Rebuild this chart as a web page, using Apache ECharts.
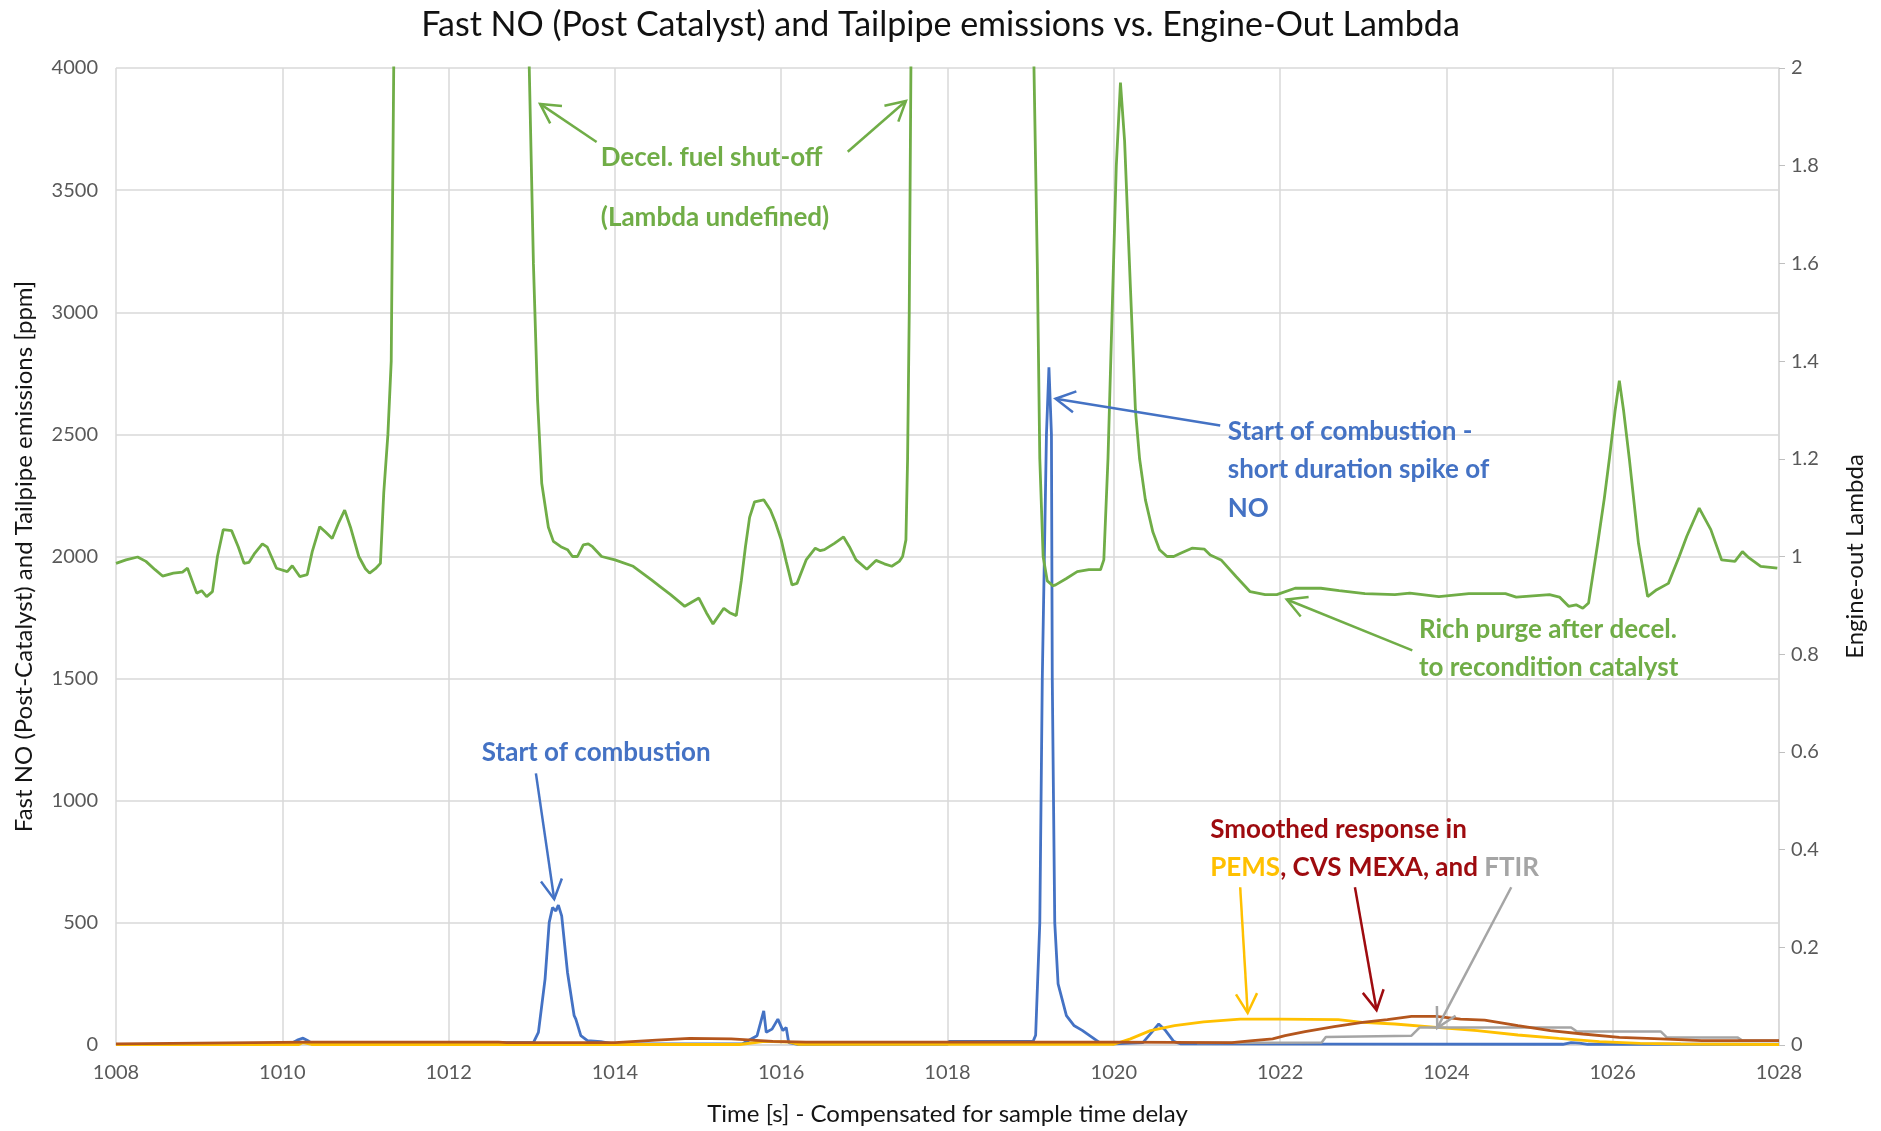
<!DOCTYPE html>
<html>
<head>
<meta charset="utf-8">
<script src="https://cdn.jsdelivr.net/npm/echarts@6/dist/echarts.min.js"></script>
<style>
html,body{margin:0;padding:0;background:#fff;}
#chart{width:1881px;height:1131px;}
</style>
</head>
<body>
<div id="chart"></div>
<script>
// ---------- DATA ----------
const xTicks = [1008,1010,1012,1014,1016,1018,1020,1022,1024,1026,1028];

// Engine-out lambda (right axis); values above 2 are "undefined" (off chart)
const lambdaTime = [1008.00,1008.12,1008.26,1008.36,1008.47,1008.56,1008.69,1008.80,1008.86,1008.97,1009.03,1009.09,1009.16,1009.22,1009.29,1009.39,1009.47,1009.54,1009.60,1009.67,1009.76,1009.82,1009.93,1010.06,1010.12,1010.21,1010.30,1010.36,1010.45,1010.52,1010.60,1010.68,1010.75,1010.82,1010.92,1011.00,1011.05,1011.12,1011.18,1011.22,1011.27,1011.31,1011.34,1011.38,
1012.94,1012.97,1013.02,1013.07,1013.12,1013.20,1013.26,1013.35,1013.43,1013.49,1013.55,1013.62,1013.68,1013.73,1013.84,1014.00,1014.22,1014.44,1014.54,1014.67,1014.84,1015.01,1015.10,1015.18,1015.31,1015.38,1015.46,1015.52,1015.57,1015.62,1015.68,1015.79,1015.87,1015.93,1016.00,1016.06,1016.13,1016.19,1016.30,1016.41,1016.47,1016.52,1016.64,1016.75,1016.82,1016.90,1017.03,1017.14,1017.24,1017.33,1017.42,1017.46,1017.50,1017.52,1017.54,1017.56,1017.60,
1019.00,1019.04,1019.08,1019.11,1019.15,1019.20,1019.27,1019.30,1019.43,1019.56,1019.70,1019.84,1019.88,1019.93,1019.98,1020.03,1020.08,1020.13,1020.20,1020.26,1020.31,1020.38,1020.47,1020.55,1020.64,1020.72,1020.81,1020.94,1021.09,1021.16,1021.29,1021.47,1021.64,1021.82,1021.96,1022.18,1022.49,1022.71,1023.02,1023.38,1023.56,1023.91,1024.27,1024.71,1024.84,1025.24,1025.36,1025.47,1025.56,1025.64,1025.71,1025.82,1025.90,1025.96,1026.03,1026.08,1026.13,1026.20,1026.31,1026.42,1026.53,1026.67,1026.80,1026.89,1027.04,1027.18,1027.31,1027.47,1027.56,1027.64,1027.78,1027.98];
const lambdaValue = [0.986,0.993,0.999,0.990,0.973,0.960,0.966,0.968,0.976,0.925,0.930,0.918,0.928,1.000,1.055,1.053,1.020,0.986,0.988,1.007,1.026,1.019,0.976,0.969,0.981,0.959,0.963,1.010,1.061,1.050,1.037,1.070,1.095,1.060,1.000,0.975,0.966,0.975,0.986,1.130,1.250,1.400,2.000,2.600,
2.600,2.000,1.600,1.320,1.150,1.060,1.031,1.020,1.014,1.000,1.000,1.024,1.026,1.020,1.000,0.993,0.980,0.952,0.939,0.922,0.898,0.915,0.885,0.862,0.894,0.885,0.879,0.950,1.020,1.080,1.112,1.116,1.095,1.070,1.034,0.990,0.942,0.945,0.993,1.017,1.012,1.014,1.027,1.040,1.020,0.993,0.974,0.992,0.985,0.980,0.990,1.000,1.034,1.200,1.500,2.000,2.600,
2.600,2.000,1.600,1.200,1.000,0.950,0.940,0.942,0.955,0.969,0.973,0.973,0.993,1.200,1.500,1.800,1.970,1.850,1.550,1.300,1.200,1.116,1.050,1.014,1.000,1.000,1.007,1.017,1.015,1.003,0.993,0.959,0.928,0.922,0.922,0.935,0.935,0.930,0.924,0.922,0.925,0.918,0.924,0.924,0.917,0.922,0.917,0.898,0.901,0.894,0.905,1.027,1.120,1.200,1.300,1.360,1.300,1.200,1.027,0.918,0.932,0.945,1.000,1.041,1.099,1.055,0.993,0.990,1.010,0.997,0.980,0.976];

// Fast NO post-catalyst [ppm]
const fastNoTime = [1008.88,1010.10,1010.18,1010.25,1010.32,1010.38,1012.50,1012.60,1013.02,1013.08,1013.16,1013.21,1013.25,1013.29,1013.32,1013.36,1013.43,1013.51,1013.53,1013.59,1013.67,1013.83,1014.00,1015.54,1015.71,1015.79,1015.82,1015.89,1015.96,1016.02,1016.06,1016.09,1016.20,1018.00,1018.02,1019.03,1019.06,1019.11,1019.14,1019.19,1019.22,1019.25,1019.26,1019.29,1019.33,1019.43,1019.52,1019.62,1019.83,1020.00,1020.35,1020.45,1020.54,1020.62,1020.72,1020.80,1025.40,1025.50,1025.60,1025.70,1028.00];
const fastNoValue = [5,5,20,28,15,3,3,10,10,52,270,502,563,549,573,529,297,120,106,38,18,14,4,6,38,140,52,65,106,59,72,10,3,3,15,15,40,500,1500,2500,2775,2500,1500,500,250,120,80,60,10,5,10,50,86,60,15,5,3,10,8,3,3];

// PEMS [ppm]
const pemsTime = [1008.0,1010.2,1010.25,1010.35,1015.5,1015.8,1016.1,1016.2,1020.0,1020.2,1020.44,1020.73,1021.08,1021.52,1022.0,1022.7,1022.99,1023.38,1023.88,1024.37,1024.86,1025.35,1025.84,1026.33,1026.82,1028.0];
const pemsValue = [2,2,10,2,2,15,12,3,3,25,59,79,95,106,106,104,93,86,72,59,41,27,14,7,4,2];

// CVS MEXA [ppm]
const mexaTime = [1008.0,1009.0,1010.3,1012.6,1012.7,1014.0,1014.5,1014.9,1015.4,1015.9,1016.3,1020.0,1021.42,1021.67,1021.91,1022.06,1022.3,1022.65,1022.99,1023.29,1023.58,1023.88,1024.17,1024.46,1024.86,1025.25,1025.64,1026.08,1026.58,1027.07,1028.0];
const mexaValue = [5,8,12,12,10,10,20,27,25,15,12,12,10,18,25,38,55,75,93,104,117,117,106,102,79,59,45,31,25,18,18];

// FTIR [ppm] (stepped)
const ftirTime = [1021.0,1022.50,1022.55,1023.58,1023.68,1025.50,1025.57,1026.58,1026.65,1027.50,1027.56,1028.0];
const ftirValue = [8,10,33,38,72,72,55,55,31,31,18,18];

// ---------- helpers ----------
const pairs = (t, v) => t.map((x, i) => [x, v[i]]);
const FONT = 'Lato, "Open Sans", sans-serif';
const GREEN = '#70AD47', BLUE = '#4472C4', YELLOW = '#FFC000', BROWN = '#B4561D', GRAY = '#A5A5A5', DARKRED = '#9E0B0F';

const chart = echarts.init(document.getElementById('chart'), null, {renderer: 'canvas'});

const baseLine = (name, data, color, yIndex, z, w) => ({
  name, type: 'line', data, yAxisIndex: yIndex, showSymbol: false, symbol: 'none',
  lineStyle: {color, width: w || 2.8}, itemStyle: {color}, z, animation: false, clip: true
});

chart.setOption({
  animation: false,
  title: {
    text: 'Fast NO (Post Catalyst) and Tailpipe emissions vs. Engine-Out Lambda',
    left: 'center', top: 3,
    textStyle: {fontFamily: FONT, fontSize: 34, fontWeight: 'normal', color: '#111'}
  },
  grid: {left: 116, right: 102, top: 68, bottom: 85, containLabel: false},
  xAxis: {
    type: 'value', min: 1008, max: 1028, interval: 2,
    name: 'Time [s] - Compensated for sample time delay',
    nameLocation: 'middle', nameGap: 57,
    nameTextStyle: {fontFamily: FONT, fontSize: 24, color: '#151515'},
    axisLine: {show: true, lineStyle: {color: '#d9d9d9', width: 1.5}},
    axisTick: {show: false},
    axisLabel: {fontFamily: FONT, fontSize: 20, color: '#595959', margin: 18,
      formatter: v => String(v)},
    splitLine: {show: true, lineStyle: {color: '#d9d9d9', width: 1.5}}
  },
  yAxis: [
    {
      type: 'value', min: 0, max: 4000, interval: 500, position: 'left',
      name: 'Fast NO (Post-Catalyst) and Tailpipe emissions [ppm]',
      nameLocation: 'middle', nameGap: 80, nameRotate: 90,
      nameTextStyle: {fontFamily: FONT, fontSize: 24, color: '#151515'},
      axisLine: {show: false}, axisTick: {show: false},
      axisLabel: {fontFamily: FONT, fontSize: 20, color: '#595959', margin: 18,
        formatter: v => String(v)},
      splitLine: {show: true, lineStyle: {color: '#d9d9d9', width: 1.5}}
    },
    {
      type: 'value', min: 0, max: 2, interval: 0.2, position: 'right',
      name: 'Engine-out Lambda',
      nameLocation: 'middle', nameGap: 64, nameRotate: 90,
      nameTextStyle: {fontFamily: FONT, fontSize: 24, color: '#151515'},
      axisLine: {show: true, lineStyle: {color: '#d9d9d9', width: 1.5}},
      axisTick: {show: true, length: 6, lineStyle: {color: '#bfbfbf'}},
      axisLabel: {fontFamily: FONT, fontSize: 20, color: '#595959', margin: 12,
        formatter: v => (Math.round(v * 10) / 10).toString()},
      splitLine: {show: false}
    }
  ],
  series: [
    baseLine('Fast NO', pairs(fastNoTime, fastNoValue), BLUE, 0, 3),
    baseLine('PEMS', pairs(pemsTime, pemsValue), YELLOW, 0, 4),
    baseLine('FTIR', pairs(ftirTime, ftirValue), GRAY, 0, 5, 2.5),
    baseLine('CVS MEXA', pairs(mexaTime, mexaValue), BROWN, 0, 6),
    baseLine('Lambda', pairs(lambdaTime, lambdaValue), GREEN, 1, 7)
  ]
});

// ---------- annotations (anchored in data coordinates) ----------
const P = (t, ppm) => chart.convertToPixel({xAxisIndex: 0, yAxisIndex: 0}, [t, ppm]);
const AFONT = 'bold 26px ' + FONT;

function arrow(from, to, color) {
  const a = P(from[0], from[1]), b = P(to[0], to[1]);
  const ang = Math.atan2(b[1] - a[1], b[0] - a[0]);
  const L = 22, s = 0.5;
  const h1 = [b[0] - L * Math.cos(ang - s), b[1] - L * Math.sin(ang - s)];
  const h2 = [b[0] - L * Math.cos(ang + s), b[1] - L * Math.sin(ang + s)];
  return [
    {type: 'line', shape: {x1: a[0], y1: a[1], x2: b[0], y2: b[1]}, style: {stroke: color, lineWidth: 2.5}, z: 100},
    {type: 'polyline', shape: {points: [h1, b, h2]}, style: {stroke: color, lineWidth: 2.5, fill: null}, z: 100}
  ];
}
function label(t, ppm, text, color, rich) {
  const p = P(t, ppm);
  const st = {text, x: p[0], y: p[1], fill: color, font: AFONT,
              textAlign: 'left', textVerticalAlign: 'middle'};
  if (rich) st.rich = rich;
  return {type: 'text', style: st, z: 101};
}

const g = [
  label(1013.83, 3632, 'Decel. fuel shut-off', GREEN),
  label(1013.83, 3387, '(Lambda undefined)', GREEN),
  ...arrow([1013.78, 3697], [1013.10, 3853], GREEN),
  ...arrow([1016.80, 3657], [1017.50, 3865], GREEN),
  label(1021.37, 2511, 'Start of combustion -', BLUE),
  label(1021.37, 2356, 'short duration spike of', BLUE),
  label(1021.37, 2196, 'NO', BLUE),
  ...arrow([1021.28, 2536], [1019.30, 2646], BLUE),
  label(1023.67, 1701, 'Rich purge after decel.', GREEN),
  label(1023.67, 1546, 'to recondition catalyst', GREEN),
  ...arrow([1023.59, 1616], [1022.08, 1824], GREEN),
  label(1012.40, 1198, 'Start of combustion', BLUE),
  ...arrow([1013.05, 1112], [1013.27, 597], BLUE),
  label(1021.16, 883, 'Smoothed response in', DARKRED),
  label(1021.16, 728, '{y|PEMS}{r|, CVS MEXA, and }{g|FTIR}', DARKRED, {
    y: {fill: YELLOW, font: AFONT},
    r: {fill: DARKRED, font: AFONT},
    g: {fill: GRAY, font: AFONT}
  }),
  ...arrow([1021.52, 646], [1021.61, 131], YELLOW),
  ...arrow([1022.90, 646], [1023.16, 143], DARKRED),
  ...arrow([1024.78, 646], [1023.89, 70], GRAY)
];
chart.setOption({graphic: {elements: g}});
</script>
</body>
</html>
